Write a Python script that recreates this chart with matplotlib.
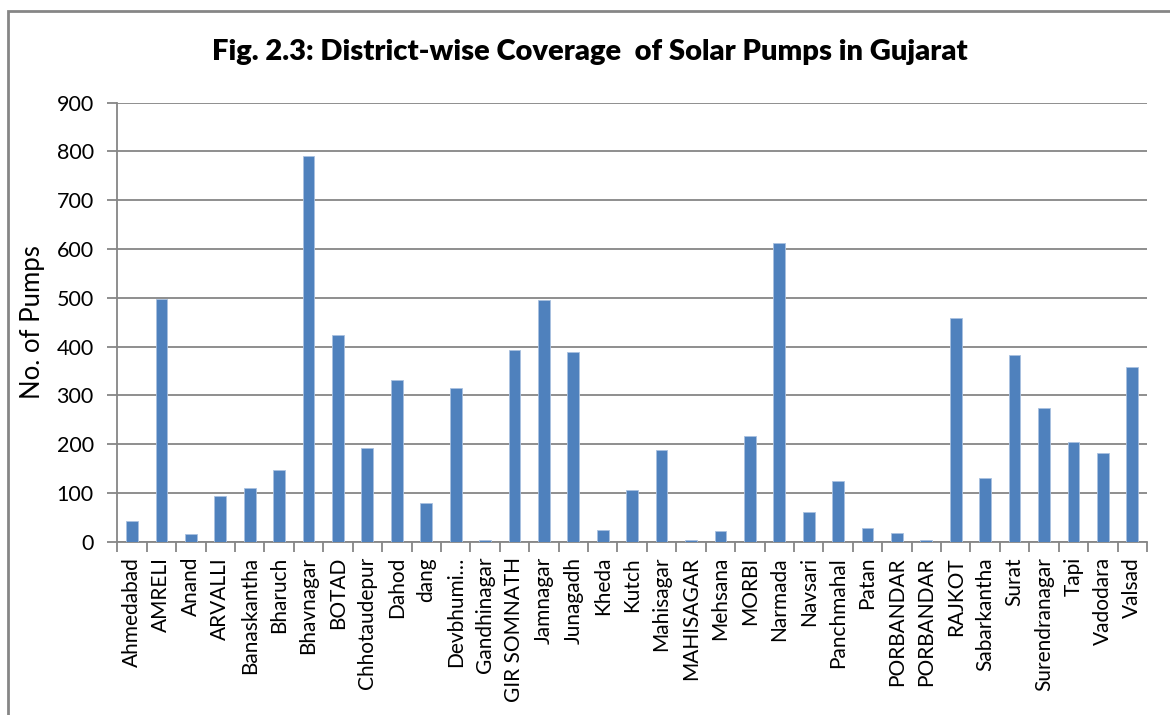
import matplotlib
matplotlib.use("Agg")
import matplotlib.pyplot as plt
from matplotlib.patches import Rectangle

districts = ["Ahmedabad", "AMRELI", "Anand", "ARVALLI", "Banaskantha", "Bharuch",
             "Bhavnagar", "BOTAD", "Chhotaudepur", "Dahod", "dang", "Devbhumi…",
             "Gandhinagar", "GIR SOMNATH", "Jamnagar", "Junagadh", "Kheda", "Kutch",
             "Mahisagar", "MAHISAGAR", "Mehsana", "MORBI", "Narmada", "Navsari",
             "Panchmahal", "Patan", "PORBANDAR", "PORBANDAR", "RAJKOT", "Sabarkantha",
             "Surat", "Surendranagar", "Tapi", "Vadodara", "Valsad"]
pumps = [43, 497, 15, 93, 111, 148,
         791, 423, 192, 331, 79, 316,
         3, 394, 495, 388, 23, 107,
         187, 4, 21, 217, 613, 61,
         124, 29, 17, 4, 459, 131,
         383, 274, 204, 181, 358]

yticks = [0, 100, 200, 300, 400, 500, 600, 700, 800, 900]

W, H = 1170, 715
fig = plt.figure(figsize=(W / 100, H / 100), dpi=100)
fig.patch.set_facecolor("white")

grey = "#868686"
bar_col = "#4F81BD"
font = "Lato"

# chart-area frame (runs off the right and bottom edges)
fig.patches.append(Rectangle((7.5 / W, -0.05), 1.2, (H - 10.5) / H + 0.05,
                             transform=fig.transFigure, fill=False,
                             edgecolor=grey, linewidth=2.0, zorder=0))

left, right, top, bottom = 117.3, 1147, 102.7, 541.7
ax = fig.add_axes([left / W, (H - bottom) / H, (right - left) / W, (bottom - top) / H])

x = list(range(len(districts)))
ax.bar(x, pumps, width=0.4, color=bar_col, edgecolor="#A9C1E0", linewidth=0.6, zorder=3)

ax.set_xlim(-0.5, len(districts) - 0.5)
ax.set_ylim(0, 900)
ax.set_yticks(yticks)
ax.set_yticklabels([str(v) for v in yticks], fontsize=15.5, family=font)
ax.yaxis.grid(True, color=grey, linewidth=1.3, zorder=0)
ax.set_axisbelow(True)

ax.set_xticks(x)
ax.set_xticklabels(districts, rotation=90, fontsize=15, family=font)
ax.set_xticks([i - 0.5 for i in range(len(districts) + 1)], minor=True)
ax.tick_params(axis="x", which="major", length=0, pad=11)
ax.tick_params(axis="x", which="minor", length=7, width=1.3, color=grey)
ax.tick_params(axis="y", length=7, width=1.3, color=grey, pad=10)

for s in ("top", "right"):
    ax.spines[s].set_visible(False)
for s in ("left", "bottom"):
    ax.spines[s].set_color(grey)
    ax.spines[s].set_linewidth(1.3)

ax.set_ylabel("No. of Pumps", fontsize=18.5, family=font, labelpad=8)

fig.text(590 / W, 1 - 52 / H, "Fig. 2.3: District-wise Coverage  of Solar Pumps in Gujarat",
         ha="center", va="center", fontsize=21, fontweight="heavy", family=font)

fig.savefig("out.png", dpi=100)
